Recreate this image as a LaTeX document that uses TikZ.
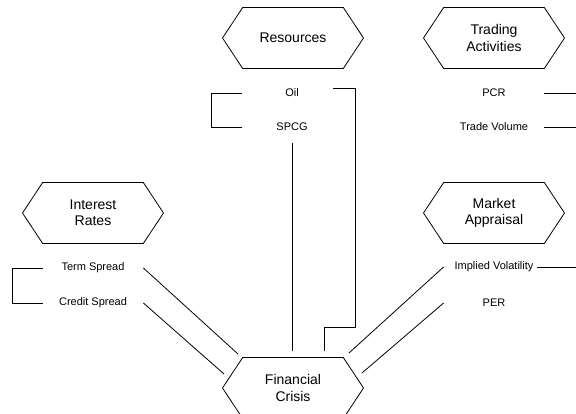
\documentclass[tikz,border=0pt]{standalone}
\usepackage{fontspec}
\setmainfont{Liberation Sans}
\usetikzlibrary{shapes.symbols, positioning}

\begin{document}
\begin{tikzpicture}[
    x=1pt, y=-1pt, line width=0.8pt,
    factor/.style={signal, signal to=west and east, signal pointer angle=113,
      draw, minimum width=141pt, minimum height=61pt, inner sep=0pt,
      align=center, font=\fontsize{14}{16.5}\selectfont},
    item/.style={minimum width=100pt, minimum height=32pt, inner sep=0pt,
      font=\fontsize{11}{13}\selectfont}
  ]
  \clip (0,0) rectangle (576,414);

  % factor groups
  \node[factor] (res) at (293,38) {Resources};
  \node[factor] (trade) at (494,38) {Trading\\Activities};
  \node[factor] (rates) at (93,213) {Interest\\Rates};
  \node[factor] (appr) at (494,213) {Market\\Appraisal};
  \node[factor] (crisis) at (293,388) {Financial\\Crisis};

  % indicators
  \node[item] (oil) at (292,93) {Oil};
  \node[item] (spcg) at (292,127) {SPCG};
  \node[item] (pcr) at (494,93) {PCR};
  \node[item] (vol) at (494,127) {Trade Volume};
  \node[item] (term) at (93,268) {Term Spread};
  \node[item] (credit) at (93,303) {Credit Spread};
  \node[item] (iv) at (494,267) {Implied Volatility};
  \node[item] (per) at (494,303) {PER};

  % brackets
  \draw (oil.west) -- ++(-30,0) |- (spcg.west);
  \draw (term.west) -- ++(-30,0) |- (credit.west);

  % links into the crisis node
  \draw ([shift={(-9,-5)}]oil.east) -- ++(22,0) -- ++(0,239)
    -| ([shift={(31,-37)}]crisis.center);
  \draw (spcg.south) -- ++(0,208);
  \draw (term.east) -- ([shift={(-55,-34)}]crisis.center);
  \draw (credit.east) -- ([shift={(-69,-14)}]crisis.center);
  \draw (iv.west) -- ([shift={(56,-35)}]crisis.center);
  \draw (per.west) -- ([shift={(69,-15)}]crisis.center);

  % links off to the right
  \draw (pcr.east) -- ++(40,0);
  \draw (vol.east) -- ++(40,0);
  \draw ([xshift=-7pt]iv.east) -- ++(47,0);
\end{tikzpicture}
\end{document}
